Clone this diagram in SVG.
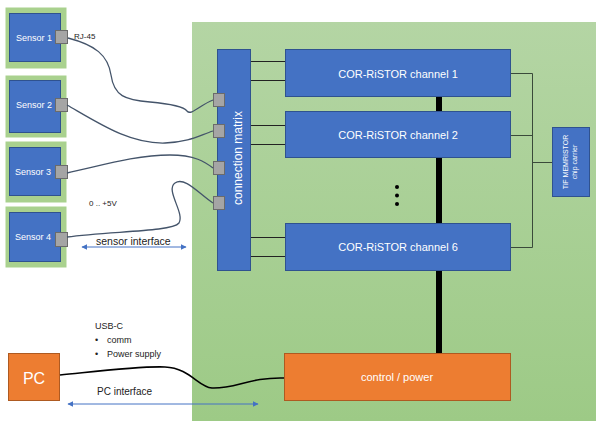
<svg xmlns="http://www.w3.org/2000/svg" width="596" height="421" viewBox="0 0 596 421">
<defs>
<linearGradient id="bg" x1="0" y1="0" x2="0" y2="1">
<stop offset="0" stop-color="#b4d5a4"/>
<stop offset="1" stop-color="#9dca86"/>
</linearGradient>
<marker id="ah" viewBox="0 0 10 10" refX="9" refY="5" markerWidth="6" markerHeight="6" orient="auto-start-reverse" markerUnits="userSpaceOnUse">
<path d="M0,0 L10,5 L0,10 z" fill="#4472c4"/>
</marker>
</defs>
<style>
.sout{fill:#a9d18e;stroke:#a9d18e}
.blue{fill:#4472c4;stroke:#2f528f;stroke-width:1}
.port{fill:#a5a5a5;stroke:#6b6b6b;stroke-width:1}
.orange{fill:#ed7d31;stroke:#ae5a21;stroke-width:1}
.wt{fill:#fff;font-family:"Liberation Sans",Arial,sans-serif}
.bt{fill:#222;font-family:"Liberation Sans",Arial,sans-serif}
.cable{fill:none;stroke:#44546a;stroke-width:1.3}
.thin{fill:none;stroke:#222;stroke-width:1}
.dim{fill:none;stroke:#4472c4;stroke-width:1;marker-start:url(#ah);marker-end:url(#ah)}
</style>
<rect x="192" y="22" width="404" height="399" fill="url(#bg)"/>

<g id="sensor1">
<rect class="sout" x="6" y="8" width="60" height="60"/>
<rect class="blue" x="9.5" y="13.5" width="51" height="48"/>
<text class="wt" x="34" y="41" font-size="9" text-anchor="middle">Sensor 1</text>
<rect class="port" x="55.5" y="30.5" width="12" height="13"/>
</g>
<g id="sensor2">
<rect class="sout" x="6" y="76" width="60" height="61"/>
<rect class="blue" x="9.5" y="80.5" width="51" height="52"/>
<text class="wt" x="34" y="108" font-size="9" text-anchor="middle">Sensor 2</text>
<rect class="port" x="55.5" y="98.5" width="12" height="13"/>
</g>
<g id="sensor3">
<rect class="sout" x="6" y="142" width="60" height="60"/>
<rect class="blue" x="9.5" y="147.5" width="51" height="48"/>
<text class="wt" x="33" y="175" font-size="9" text-anchor="middle">Sensor 3</text>
<rect class="port" x="55.5" y="165.5" width="12" height="13"/>
</g>
<g id="sensor4">
<rect class="sout" x="6" y="207" width="60" height="60"/>
<rect class="blue" x="9.5" y="212.5" width="51" height="49"/>
<text class="wt" x="33" y="240" font-size="9" text-anchor="middle">Sensor 4</text>
<rect class="port" x="55.5" y="232.5" width="12" height="14"/>
</g>

<g id="matrix">
<rect class="blue" x="217.5" y="49.5" width="33" height="221"/>
<text class="wt" transform="translate(242,158) rotate(-90)" font-size="12" text-anchor="middle">connection matrix</text>
<rect class="port" x="213.5" y="93.5" width="11" height="13"/>
<rect class="port" x="213.5" y="124.5" width="11" height="13"/>
<rect class="port" x="213.5" y="161.5" width="11" height="13"/>
<rect class="port" x="213.5" y="196.5" width="11" height="13"/>
</g>

<g id="ch1">
<rect class="blue" x="285.5" y="49.5" width="225" height="47"/>
<text class="wt" x="398" y="78" font-size="11" text-anchor="middle">COR-RiSTOR channel 1</text>
</g>
<g id="ch2">
<rect class="blue" x="285.5" y="111.5" width="225" height="46"/>
<text class="wt" x="398" y="139" font-size="11" text-anchor="middle">COR-RiSTOR channel 2</text>
</g>
<g id="ch6">
<rect class="blue" x="285.5" y="223.5" width="225" height="47"/>
<text class="wt" x="398" y="251" font-size="11" text-anchor="middle">COR-RiSTOR channel 6</text>
</g>
<g id="dots">
<circle cx="397" cy="187" r="2"/>
<circle cx="397" cy="195.5" r="2"/>
<circle cx="397" cy="204" r="2"/>
</g>
<g id="chip">
<rect class="blue" x="552.5" y="127.5" width="37" height="69"/>
<text class="wt" transform="translate(568,162) rotate(-90)" font-size="7" text-anchor="middle">TiF MEMRISTOR</text>
<text class="wt" transform="translate(577,162) rotate(-90)" font-size="7" text-anchor="middle">chip carrier</text>
</g>
<g id="control">
<rect class="orange" x="284.5" y="353.5" width="226" height="47"/>
<text class="wt" x="397" y="381" font-size="11" text-anchor="middle">control / power</text>
</g>
<g id="pc">
<rect class="orange" x="8.5" y="353.5" width="51" height="47"/>
<text class="wt" x="34" y="384" font-size="16" text-anchor="middle">PC</text>
</g>

<g id="connectors">
<path class="cable" d="M68,38 C95,45 108,55 111,75 C114,96 125,100 150,102 C172,104 184,107 187,111 C191,116 200,105 213,100"/>
<path class="cable" d="M67,105 C100,124 130,144 165,143 C190,142 200,135 213,131"/>
<path class="cable" d="M67,173 C100,166 135,155 170,155 C195,155 205,162 213,168"/>
<path class="cable" d="M67,237 C110,231 172,232 179,223 C185,213 165,190 175,183 C185,176 200,195 213,203"/>
<path d="M60,375 C100,371 140,366 165,367 C190,368 198,387 212,388 C235,389 250,377 284,378" fill="none" stroke="#000" stroke-width="1.6"/>
<line class="thin" x1="251" y1="61.5" x2="285" y2="61.5"/>
<line class="thin" x1="251" y1="80.5" x2="285" y2="80.5"/>
<line class="thin" x1="251" y1="125.5" x2="285" y2="125.5"/>
<line class="thin" x1="251" y1="144.5" x2="285" y2="144.5"/>
<line class="thin" x1="251" y1="237.5" x2="285" y2="237.5"/>
<line class="thin" x1="251" y1="256.5" x2="285" y2="256.5"/>
<path d="M511,73.5 H532.5 V247.5 H511 M511,135.5 H532.5 M532.5,162.5 H552" fill="none" stroke="#3a4a3a" stroke-width="1"/>
<path d="M439,97 V111 M439,158 V223 M439,271 V353" stroke="#000" stroke-width="6" fill="none"/>
<line class="dim" x1="82" y1="247" x2="186" y2="247"/>
<line class="dim" x1="68" y1="404" x2="258" y2="404"/>
</g>

<g id="labels">
<text class="bt" x="74" y="39" font-size="8">RJ-45</text>
<text class="bt" x="89" y="206" font-size="8">0 .. +5V</text>
<text class="bt" x="96" y="245" font-size="10.5">sensor interface</text>
<text class="bt" x="95" y="329" font-size="9">USB-C</text>
<text class="bt" x="95" y="343" font-size="9">•</text>
<text class="bt" x="107" y="343" font-size="9">comm</text>
<text class="bt" x="95" y="357" font-size="9">•</text>
<text class="bt" x="107" y="357" font-size="9">Power supply</text>
<text class="bt" x="97" y="395" font-size="10">PC interface</text>
</g>
</svg>
